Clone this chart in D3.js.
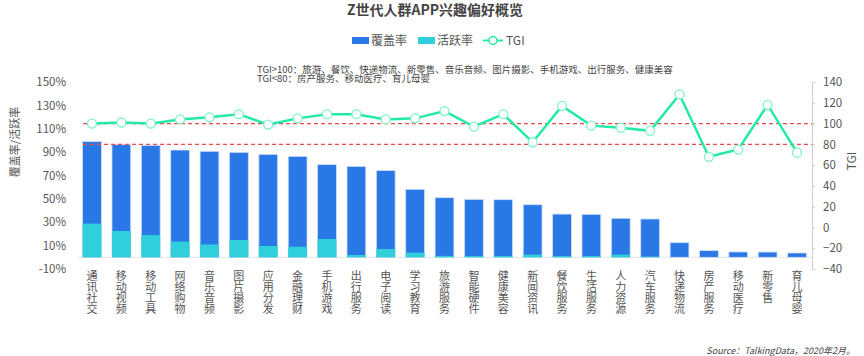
<!DOCTYPE html>
<html><head><meta charset="utf-8">
<script src="https://cdn.jsdelivr.net/npm/d3@7"></script>
<style>
html,body{margin:0;padding:0;background:#fff;}
svg{display:block;font-family:"Noto Sans CJK SC","Noto Sans",sans-serif;}
</style></head>
<body><svg id="c" width="864" height="356"></svg>
<script>
const categories = ["通讯社交","移动视频","移动工具","网络购物","音乐音频","图片摄影","应用分发","金融理财","手机游戏","出行服务","电子阅读","学习教育","旅游服务","智能硬件","健康美容","新闻资讯","餐饮服务","生活服务","人力资源","汽车服务","快递物流","房产服务","移动医疗","新零售","育儿母婴"];
const coverage = [99,96.4,95.8,91.8,90.7,89.8,88.1,86.4,79.3,77.8,74.2,58.2,51,49.6,49.3,45,37,36.8,33.4,32.8,12.5,5.7,4.6,4.5,3.7];
const active = [28.8,22.5,19,13.4,11,14.8,9.7,9.1,15.7,2,7.1,4,1.2,1,1,2.3,1,1,2.3,0.6,0,0,0,0,0];
const tgi = [100,101,100,104,106,109,99,105,109,109,104,105,112,97,109,82,117,98,96,93,128,68,75,118,72];
const leftTicks = [-10,10,30,50,70,90,110,130,150];
const rightTicks = [-40,-20,0,20,40,60,80,100,120,140];
const refLines = [100,80];

const svg = d3.select("#c");
const txt = "#555";
const x = d3.scaleBand().domain(categories).range([77.3, 811.7]).paddingInner(0.36).paddingOuter(0.18);
const yL = d3.scaleLinear().domain([-10,150]).range([269,82]);
const yR = d3.scaleLinear().domain([-40,140]).range([269,82]);

// title
svg.append("text").attr("x",435).attr("y",15).attr("text-anchor","middle")
  .attr("font-size",14).attr("font-weight","bold").attr("fill","#444").text("Z世代人群APP兴趣偏好概览");

// legend
const lg = svg.append("g").attr("font-size",12).attr("fill",txt);
lg.append("rect").attr("x",352).attr("y",37).attr("width",17).attr("height",7).attr("fill","#2a77e6");
lg.append("text").attr("x",371).attr("y",45).text("覆盖率");
lg.append("rect").attr("x",418).attr("y",37).attr("width",17).attr("height",7).attr("fill","#2fd0db");
lg.append("text").attr("x",437).attr("y",45).text("活跃率");
lg.append("line").attr("x1",483).attr("x2",503).attr("y1",40.5).attr("y2",40.5).attr("stroke","#24eaa8").attr("stroke-width",2);
lg.append("circle").attr("cx",493).attr("cy",40.5).attr("r",4).attr("fill","#fff").attr("stroke","#24eaa8").attr("stroke-width",1.5);
lg.append("text").attr("x",506).attr("y",45).text("TGI");

// annotation
const an = svg.append("g").attr("font-size",9.5).attr("fill","#444");
an.append("text").attr("x",257).attr("y",72.5).text("TGI>100：旅游、餐饮、快递物流、新零售、音乐音频、图片摄影、手机游戏、出行服务、健康美容");
an.append("text").attr("x",257).attr("y",81.5).text("TGI<80：房产服务、移动医疗、育儿母婴");

// left axis
const la = svg.append("g").attr("transform","translate(68,0)")
  .call(d3.axisLeft(yL).tickValues(leftTicks).tickSize(0).tickPadding(2).tickFormat(d=>d+"%"));
la.select(".domain").remove();
la.selectAll("text").attr("font-size",11.5).attr("fill",txt).attr("font-family",'"Noto Sans CJK SC",sans-serif');

// right axis
const ra = svg.append("g").attr("transform","translate(812,0)")
  .call(d3.axisRight(yR).tickValues(rightTicks).tickSize(3).tickPadding(8).tickSizeOuter(0));
ra.select(".domain").attr("stroke","#ccc");
ra.selectAll(".tick line").attr("stroke","#ccc");
ra.selectAll("text").attr("font-size",11.5).attr("fill",txt).attr("font-family",'"Noto Sans CJK SC",sans-serif');

// axis titles
svg.append("text").attr("transform","translate(19,142) rotate(-90)").attr("text-anchor","middle")
  .attr("font-size",11).attr("fill",txt).text("覆盖率/活跃率");
svg.append("text").attr("transform","translate(856,161) rotate(-90)").attr("text-anchor","middle")
  .attr("font-size",12).attr("fill",txt).text("TGI");

// baseline
svg.append("line").attr("x1",77).attr("x2",812).attr("y1",yL(0)).attr("y2",yL(0)).attr("stroke","#e3e3e3");

// bars
svg.append("g").selectAll("rect").data(categories).join("rect")
  .attr("x",d=>x(d)).attr("width",x.bandwidth())
  .attr("y",(d,i)=>yL(coverage[i])).attr("height",(d,i)=>yL(0)-yL(coverage[i]))
  .attr("fill","#2a77e6").attr("stroke","#cfe0fa").attr("stroke-width",0.8);
svg.append("g").selectAll("rect").data(categories).join("rect")
  .attr("x",d=>x(d)).attr("width",x.bandwidth())
  .attr("y",(d,i)=>yL(active[i])).attr("height",(d,i)=>yL(0)-yL(active[i]))
  .attr("fill","#2fd0db");

// ref lines
svg.append("g").selectAll("line").data(refLines).join("line")
  .attr("x1",83).attr("x2",812).attr("y1",d=>yR(d)).attr("y2",d=>yR(d))
  .attr("stroke","#f04a4a").attr("stroke-width",1.2).attr("stroke-dasharray","4,3");

// TGI line
const cx = (d)=>x(d)+x.bandwidth()/2;
svg.append("path").datum(categories)
  .attr("d",d3.line().x(d=>cx(d)).y((d,i)=>yR(tgi[i])))
  .attr("fill","none").attr("stroke","#24eaa8").attr("stroke-width",2.5);
svg.append("g").selectAll("circle").data(categories).join("circle")
  .attr("cx",d=>cx(d)).attr("cy",(d,i)=>yR(tgi[i])).attr("r",4.5)
  .attr("fill","#fff").attr("stroke","#7ef2c9").attr("stroke-width",1.3);

// x labels (vertical)
const xl = svg.append("g").attr("font-size",11).attr("fill",txt).attr("text-anchor","middle");
categories.forEach(c=>{
  const t = xl.append("text").attr("x",cx(c)).attr("y",280);
  [...c].forEach((ch,j)=>t.append("tspan").attr("x",cx(c)).attr("y",280+j*10.9).text(ch));
});

// source
svg.append("text").attr("x",855).attr("y",354).attr("text-anchor","end").attr("font-size",9)
  .attr("font-style","italic").attr("fill","#444").text("Source：TalkingData，2020年2月。");
</script></body></html>
